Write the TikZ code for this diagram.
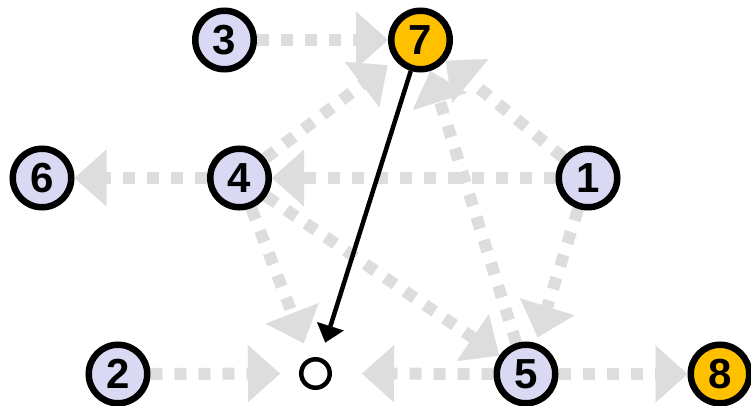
\documentclass[tikz,border=0pt]{standalone}
\usepackage{fontspec}
\setmainfont{Liberation Sans}
\usetikzlibrary{arrows.meta}
\definecolor{lav}{RGB}{217,217,243}
\definecolor{gold}{RGB}{255,192,0}
\definecolor{edgegray}{RGB}{221,221,221}
\pgfdeclarelayer{bg}
\pgfsetlayers{bg,main}
\begin{document}
\begin{tikzpicture}[x=1pt,y=-1pt,
  vtx/.style={circle, draw=black, line width=6.5pt, minimum size=58.5pt, inner sep=0pt, fill=lav, font=\bfseries\fontsize{42}{42}\selectfont},
  hot/.style={vtx, fill=gold},
  hub/.style={circle, minimum size=65pt, inner sep=0pt, outer sep=0pt},
  dotc/.style={circle, draw=black, line width=4.5pt, minimum size=28.5pt, inner sep=0pt, fill=white},
  flow/.style={draw=edgegray, line width=12pt, dash pattern=on 12pt off 12pt, -{Triangle[length=32pt,width=57pt,line width=0.1pt]}},
  link/.style={draw=black, line width=4.5pt, -{Triangle[length=17pt,width=28pt,line width=0.1pt]}}
]
\useasboundingbox (0,0) rectangle (751,406);
\node[vtx] (n3) at (224.5,40) {3};
\node[hot] (n7) at (420.5,40) {7};
\node[vtx] (n6) at (42,178) {6};
\node[vtx] (n4) at (239.5,178) {4};
\node[vtx] (n1) at (588,178) {1};
\node[vtx] (n2) at (118,374) {2};
\node[hub] (o) at (315.5,373.5) {};
\node[dotc] (oc) at (o) {};
\node[vtx] (n5) at (526,374) {5};
\node[hot] (n8) at (720,374) {8};
\begin{pgfonlayer}{bg}
\draw[flow] (n3) -- (n7);
\draw[flow, shorten >=9pt] (n4) -- (n7);
\draw[flow] (n1) -- (n7);
\draw[flow] (n5) -- (n7);
\draw[flow] (n1) -- (n4);
\draw[flow] (n4) -- (n6);
\draw[flow, shorten >=6pt] (n1) -- (n5);
\draw[flow] (n4) -- (n5);
\draw[flow] (n4) -- (o);
\draw[flow, shorten >=3pt] (n2) -- (o);
\draw[flow, shorten >=14pt] (n5) -- (o);
\draw[flow] (n5) -- (n8);
\end{pgfonlayer}
\draw[link] (n7) -- (o);
\end{tikzpicture}
\end{document}
